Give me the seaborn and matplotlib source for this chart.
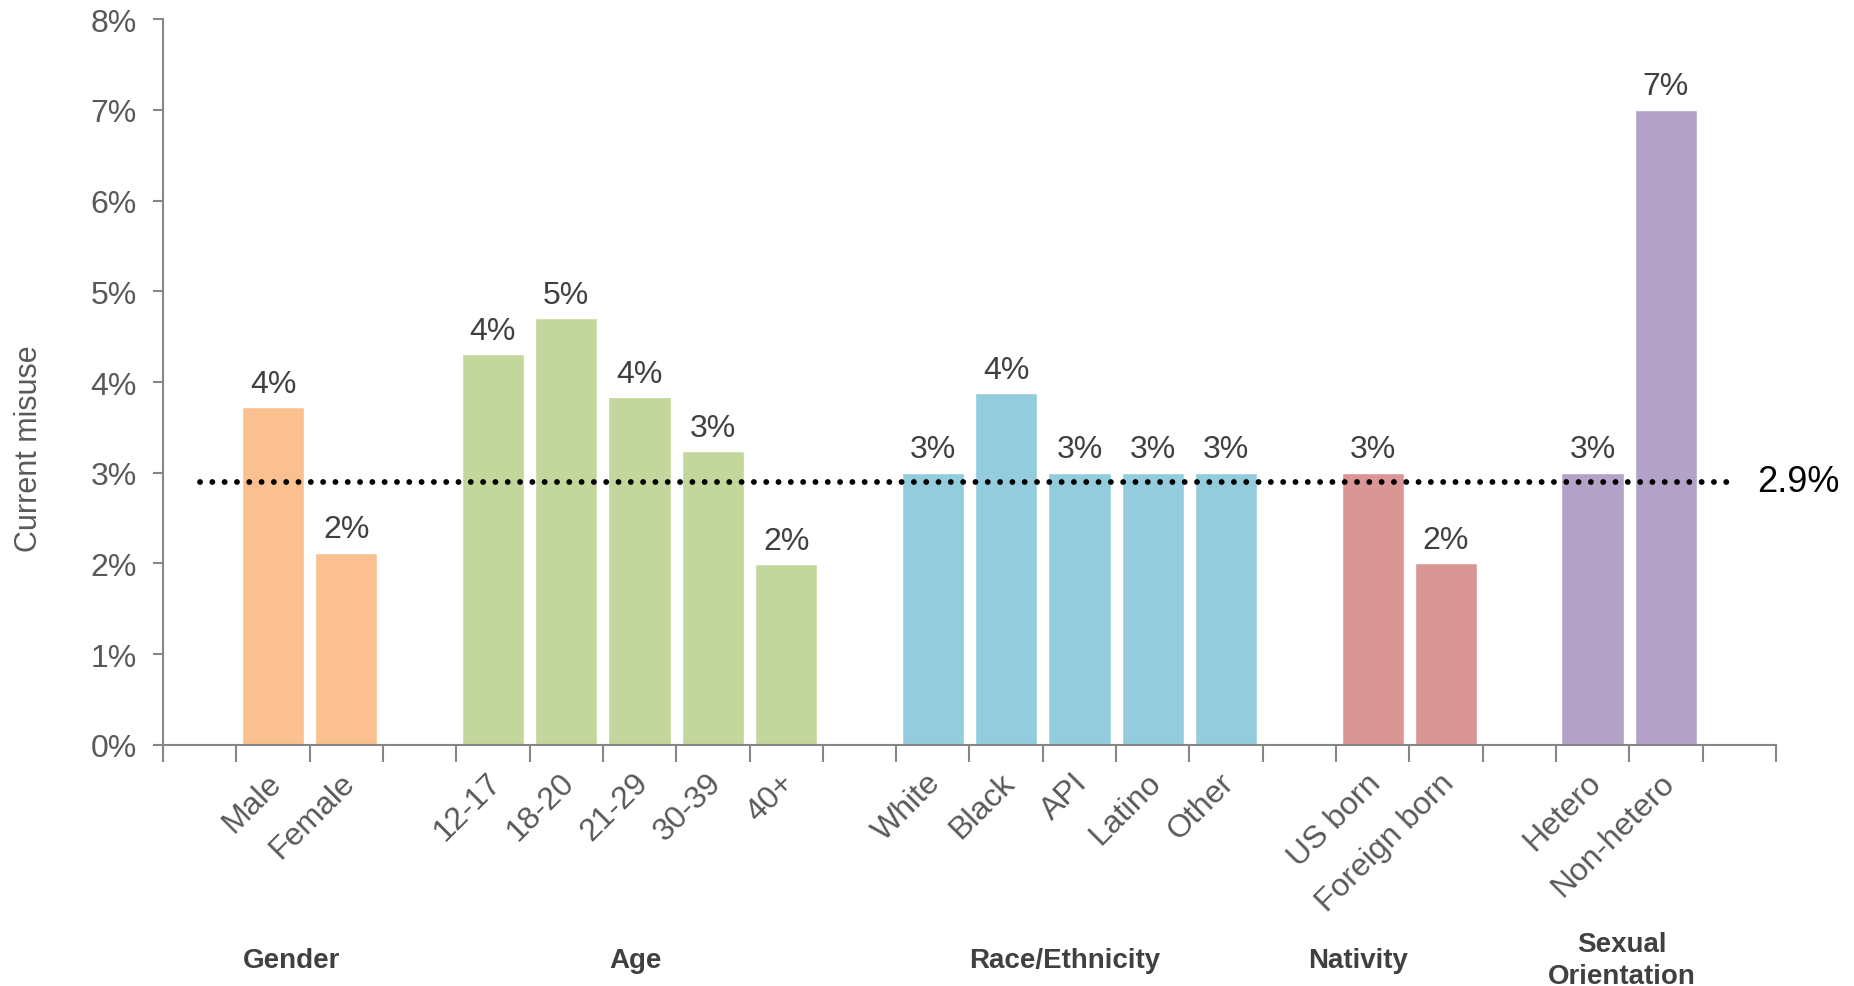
import numpy as np
import pandas as pd
import matplotlib
matplotlib.use("Agg")
import matplotlib.pyplot as plt
import matplotlib.transforms as mtransforms
import seaborn as sns

# ---- data -------------------------------------------------------------
groups = ["Gender", "Age", "Race/Ethnicity", "Nativity", "Sexual\nOrientation"]
gender_labels = ["Male", "Female"]
gender_values = [3.72, 2.12]
age_labels = ["12-17", "18-20", "21-29", "30-39", "40+"]
age_values = [4.31, 4.70, 3.83, 3.24, 1.99]
race_labels = ["White", "Black", "API", "Latino", "Other"]
race_values = [3.0, 3.88, 3.0, 3.0, 3.0]
nativity_labels = ["US born", "Foreign born"]
nativity_values = [3.0, 2.0]
orientation_labels = ["Hetero", "Non-hetero"]
orientation_values = [3.0, 7.0]
overall_rate = 2.9

group_colors = ["#FAC090", "#C3D69B", "#93CDDD", "#D99694", "#B3A2C7"]

# ---- build table and category order (blank slots separate groups) -----
label_sets = [gender_labels, age_labels, race_labels, nativity_labels, orientation_labels]
value_sets = [gender_values, age_values, race_values, nativity_values, orientation_values]
rows = []
order = [" "]
for g, labs, vals in zip(groups, label_sets, value_sets):
    for lab, v in zip(labs, vals):
        rows.append({"label": lab, "value": v, "group": g})
    order += labs
    order.append(" " * (len(order) + 1))
df = pd.DataFrame(rows)

sns.set_theme(style="white")
plt.rcParams["font.family"] = ["Liberation Sans", "DejaVu Sans"]

GRAY = "#595959"
DARK = "#404040"
AXIS = "#868686"

fig = plt.figure(figsize=(18.54, 9.87), dpi=100)
ax = fig.add_axes([0.0879, 0.2442, 0.8700, 0.7355])

sns.barplot(data=df, x="label", y="value", hue="group", order=order,
            hue_order=groups, palette=group_colors, dodge=False, width=0.85,
            saturation=1, legend=False, ax=ax)

n_slots = len(order)
ax.set_xlim(-0.5, n_slots - 0.5)
ax.set_ylim(0, 8)

# value labels above bars
for patch in ax.patches:
    h = patch.get_height()
    if np.isnan(h) or h <= 0:
        continue
    ax.annotate(f"{h:.0f}%", (patch.get_x() + patch.get_width() / 2, h),
                xytext=(0, 6), textcoords="offset points", ha="center",
                va="bottom", fontsize=23, color=DARK)

# overall average reference line
ref = ax.hlines(overall_rate, 0.0, 20.88, colors="black", linewidth=4.2,
                linestyles=(0, (0.01, 2.1)))
ref.set_capstyle("round")
ax.text(21.25, overall_rate, f"{overall_rate}%", fontsize=26, color="black",
        va="center", ha="left", clip_on=False)

# axes styling
sns.despine(ax=ax)
for s in ("left", "bottom"):
    ax.spines[s].set_color(AXIS)
    ax.spines[s].set_linewidth(1.5)

ax.set_yticks(range(0, 9))
ax.set_yticklabels([f"{t}%" for t in range(0, 9)], fontsize=23, color=GRAY)
ax.tick_params(axis="y", which="major", left=True, length=7, width=1.5,
               color=AXIS, pad=12)

ax.set_xticks(np.arange(-0.5, n_slots, 1.0))
ax.set_xticklabels([])
ax.tick_params(axis="x", which="major", bottom=True, length=12, width=1.5,
               color=AXIS)
label_pos = [order.index(l) for l in df["label"]]
ax.set_xticks(label_pos, minor=True)
ax.set_xticklabels(df["label"], minor=True, rotation=45, ha="right",
                   va="top", rotation_mode="anchor", fontsize=23,
                   color=GRAY)
ax.tick_params(axis="x", which="minor", length=0, pad=16)
shift = mtransforms.ScaledTranslation(-5 / 72, 0, fig.dpi_scale_trans)
for lbl in ax.get_xticklabels(minor=True):
    lbl.set_transform(lbl.get_transform() + shift)

ax.set_xlabel("")
ax.set_ylabel("Current misuse", fontsize=22, color=GRAY)
ax.yaxis.set_label_coords(-0.074, 0.41)

# group captions under the category labels
group_x = [1.25, 5.95, 11.8, 15.8, 19.4]
for g, gx in zip(groups, group_x):
    ax.text(gx, -0.296, g, transform=ax.get_xaxis_transform(), ha="center",
            va="center", fontsize=20, fontweight="bold", color=DARK,
            linespacing=1.3, clip_on=False)

fig.savefig("out.png", dpi=100)
